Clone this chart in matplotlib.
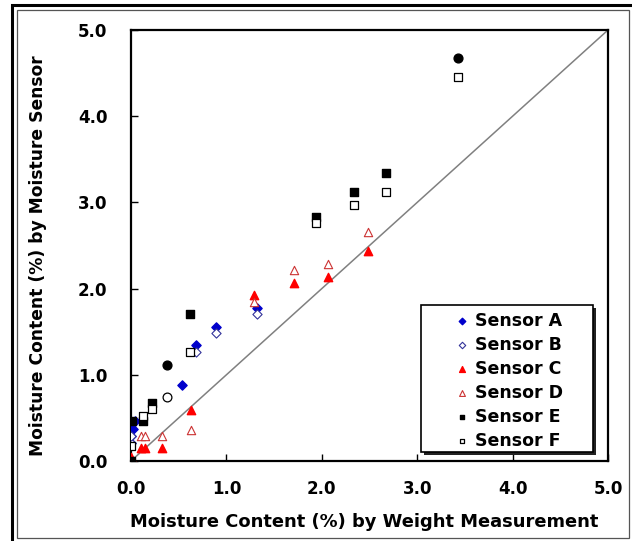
import matplotlib.pyplot as plt
from matplotlib.patches import Rectangle

# ----------------------------------------------------
# Data
# ----------------------------------------------------

a_x = [0.00, 0.02, 0.04, 0.00, 0.53, 0.68, 0.89, 1.32]
a_y = [0.21, 0.37, 0.46, 0.29, 0.88, 1.34, 1.56, 1.78]

b_x = [0.00, 0.00, 0.68, 0.89, 1.32]
b_y = [0.21, 0.29, 1.26, 1.48, 1.70]

c_x = [0.00, 0.11, 0.15, 0.33, 0.63, 1.29, 1.71, 2.06, 2.48]
c_y = [0.05, 0.15, 0.15, 0.15, 0.59, 1.93, 2.07, 2.14, 2.44]

d_x = [0.11, 0.15, 0.33, 0.63, 1.29, 1.71, 2.06, 2.48]
d_y = [0.29, 0.29, 0.29, 0.36, 1.85, 2.22, 2.29, 2.66]

e_x = [0.00, 0.01, 0.13, 0.22, 0.62, 1.94, 2.34, 2.67]
e_y = [0.00, 0.46, 0.46, 0.67, 1.71, 2.83, 3.12, 3.34]
e_circ_x = [0.38, 3.43]
e_circ_y = [1.11, 4.67]

f_x = [0.00, 0.13, 0.22, 0.62, 1.94, 2.34, 2.67, 3.43]
f_y = [0.17, 0.52, 0.60, 1.27, 2.76, 2.97, 3.12, 4.46]
f_circ_x = [0.38]
f_circ_y = [0.74]

ticks = [0, 1, 2, 3, 4, 5]
tick_labels = ["0.0", "1.0", "2.0", "3.0", "4.0", "5.0"]

# ----------------------------------------------------
# Figure
# ----------------------------------------------------

plt.rcParams["font.family"] = "DejaVu Sans"

fig = plt.figure(figsize=(6.32, 5.41), dpi=100)
W, H = 632, 541

# outer frame lines
fig.patches.append(Rectangle((12 / W, -0.05), 1.1, 1 - 5 / H + 0.05,
                             transform=fig.transFigure, fill=False,
                             edgecolor="black", linewidth=2.2))
fig.patches.append(Rectangle((17 / W, 3 / H), (629 - 17) / W, (531 - 3) / H,
                             transform=fig.transFigure, fill=False,
                             edgecolor="#555555", linewidth=0.9))

ax = fig.add_axes([131 / W, 80 / H, (608 - 131) / W, (461 - 30) / H])

# 1:1 line
ax.plot([0, 5], [0, 5], color="#808080", linewidth=1.1, zorder=1)

ax.scatter(a_x, a_y, marker="D", s=22, color="#0000CC", label="Sensor A", zorder=3)
ax.scatter(b_x, b_y, marker="D", s=22, facecolor="white", edgecolor="#333399",
           linewidth=0.8, label="Sensor B", zorder=3)
ax.scatter(c_x, c_y, marker="^", s=36, color="#FF0000", label="Sensor C", zorder=3)
ax.scatter(d_x, d_y, marker="^", s=36, facecolor="white", edgecolor="#CC3333",
           linewidth=0.8, label="Sensor D", zorder=3)
ax.scatter(e_x, e_y, marker="s", s=26, color="black", label="Sensor E", zorder=3)
ax.scatter(f_x, f_y, marker="s", s=26, facecolor="white", edgecolor="black",
           linewidth=0.9, label="Sensor F", zorder=3)
ax.scatter(e_circ_x, e_circ_y, marker="o", s=40, color="black", zorder=3)
ax.scatter(f_circ_x, f_circ_y, marker="o", s=40, facecolor="white",
           edgecolor="black", linewidth=0.9, zorder=3)

ax.set_xlim(0, 5)
ax.set_ylim(0, 5)
ax.set_xticks(ticks)
ax.set_yticks(ticks)
ax.set_xticklabels(tick_labels, fontsize=12, fontweight="bold")
ax.set_yticklabels(tick_labels, fontsize=12, fontweight="bold")
ax.tick_params(direction="in", length=5, width=1)
ax.tick_params(axis="y", pad=17)
ax.tick_params(axis="x", pad=14)

for s in ax.spines.values():
    s.set_linewidth(1.6)

ax.set_xlabel("Moisture Content (%) by Weight Measurement",
              fontsize=12.9, fontweight="bold")
ax.set_ylabel("Moisture Content (%) by Moisture Sensor",
              fontsize=12.3, fontweight="bold")
ax.xaxis.set_label_coords((364 - 131) / 477, -(513 - 461) / 431)
ax.yaxis.set_label_coords(-(131 - 47) / 477, (461 - 256) / 431)

# legend box with shadow (drawn by hand, Excel style)
ax.add_patch(Rectangle((0.608 + 0.0063, 0.0209 - 0.007), 0.3606, 0.3411,
                       transform=ax.transAxes, facecolor="#222222",
                       edgecolor="none", zorder=4, clip_on=False))
ax.add_patch(Rectangle((0.608, 0.0209), 0.3606, 0.3411,
                       transform=ax.transAxes, facecolor="white",
                       edgecolor="black", linewidth=1.2, zorder=4.1,
                       clip_on=False))

leg = ax.legend(loc="upper left", bbox_to_anchor=(0.6757, 0.3457),
                borderaxespad=0, prop={"weight": "bold", "size": 12.5},
                frameon=False, handletextpad=0.25, labelspacing=0.345,
                borderpad=0, markerscale=0.7, handlelength=1.0)
leg.set_zorder(5)

fig.savefig("out.png", dpi=100)
